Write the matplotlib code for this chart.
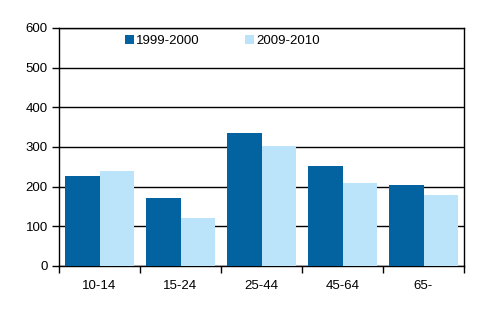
import numpy as np
import matplotlib.pyplot as plt

plt.rcParams['font.family'] = ['Liberation Sans', 'DejaVu Sans']

# Data
age_groups = ['10-14', '15-24', '25-44', '45-64', '65-']
series_names = ['1999-2000', '2009-2010']
values_1999 = [227, 171, 335, 252, 204]
values_2009 = [240, 121, 302, 209, 179]

dark = '#0263A0'
light = '#BBE4FB'

fig = plt.figure(figsize=(4.89, 3.29), dpi=100)
ax = fig.add_axes([59/489, 63/329, 405/489, 238/329])

x = np.arange(len(age_groups))
w = 0.432
ax.bar(x - w/2, values_1999, w, color=dark, label=series_names[0], zorder=3)
ax.bar(x + w/2, values_2009, w, color=light, label=series_names[1], zorder=3)

ax.set_xlim(-0.5, len(age_groups) - 0.5)
ax.set_ylim(0, 600)
ax.set_yticks(np.arange(0, 601, 100))
ax.yaxis.grid(True, color='black', linewidth=1, zorder=0)

ax.set_xticks(x)
ax.set_xticklabels(age_groups)
ax.set_xticks(np.arange(-0.5, len(age_groups)), minor=True)
ax.tick_params(axis='x', which='major', length=0, pad=10, labelsize=9.5)
ax.tick_params(axis='x', which='minor', length=5, width=1, direction='out')
ax.tick_params(axis='y', length=5, width=1, labelsize=9.5, pad=3)

for s in ax.spines.values():
    s.set_color('black')
    s.set_linewidth(1)

ax.legend(loc='upper left', bbox_to_anchor=(0.14, 1.01), ncol=2, frameon=False,
          fontsize=9.5, handlelength=0.7, handleheight=0.7, handletextpad=0.15,
          columnspacing=3.4, borderaxespad=0.3)

fig.savefig('out.png', dpi=100)
